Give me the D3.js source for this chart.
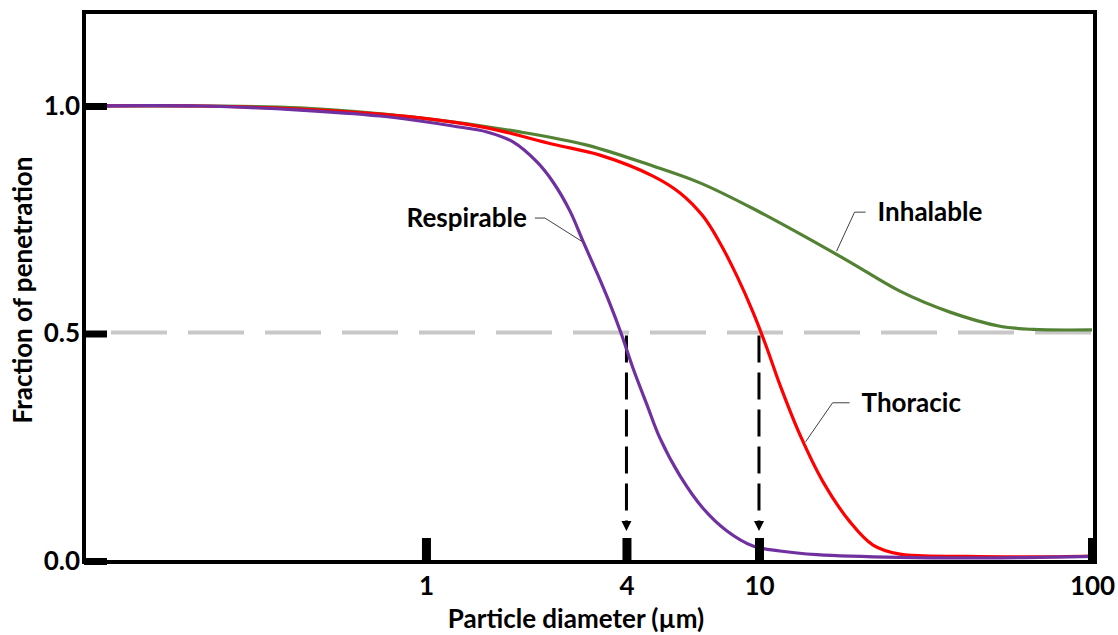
<!DOCTYPE html>
<html>
<head>
<meta charset="utf-8">
<script src="https://cdn.jsdelivr.net/npm/d3@7"></script>
<style>
    body { margin: 0; background: #fff; }
    svg { display: block; }
    text { font-family: Lato, "Open Sans", sans-serif; font-weight: bold; fill: #000; }
</style>
</head>
<body>
<div id="chart"></div>
<script>
// 图尺寸
const WIDTH = 1118;
const HEIGHT = 635;

// 坐标轴
const X_MIN = 0.094;
const X_MAX = 100;
const Y_MAX = 1.2;
const xTicks = [1, 4, 10, 100];
const yTicks = [0, 0.5, 1.0];
const xTitle = "Particle diameter (\u00b5m)";
const yTitle = "Fraction of penetration";

// 曲线数据 (粒径 µm, 穿透率)
const respirableD = [0.094, 0.21, 0.418, 0.727, 0.959, 1.205, 1.525, 1.825, 2.154, 2.407, 2.707, 2.961, 3.263, 3.569, 3.852, 4.183, 4.61, 5.042, 5.793, 6.789, 8.014, 9.594, 11.56, 14.94, 26.5, 52.8, 100];
const respirableV = [1.0, 1.0, 0.991, 0.978, 0.967, 0.956, 0.943, 0.921, 0.877, 0.833, 0.769, 0.703, 0.633, 0.565, 0.501, 0.424, 0.343, 0.27, 0.187, 0.116, 0.066, 0.033, 0.022, 0.014, 0.008, 0.007, 0.01];

const thoracicD = [0.094, 0.21, 0.418, 0.959, 1.525, 2.407, 3.331, 4.805, 5.793, 6.789, 7.636, 8.589, 9.594, 10.5, 11.56, 13.28, 15.57, 18.76, 22.0, 26.5, 42.1, 66.5, 100];
const thoracicV = [1.0, 1.0, 0.993, 0.974, 0.952, 0.916, 0.892, 0.846, 0.809, 0.758, 0.699, 0.626, 0.547, 0.473, 0.387, 0.277, 0.174, 0.086, 0.035, 0.015, 0.01, 0.009, 0.011];

const inhalableD = [0.094, 0.21, 0.418, 0.959, 1.915, 3.044, 4.805, 6.65, 9.397, 13.28, 18.76, 26.5, 37.46, 52.9, 66.5, 100];
const inhalableV = [1.0, 1.0, 0.996, 0.974, 0.943, 0.914, 0.868, 0.831, 0.778, 0.719, 0.657, 0.593, 0.547, 0.516, 0.509, 0.508];

// 名称 / 颜色
const seriesNames = ["Inhalable", "Thoracic", "Respirable"];
const seriesColors = ["#548235", "#ff0000", "#7030a0"];

// 50% 切割点
const cutLevel = 0.5;
const cutPoints = [4, 10];

// 标注锚点 (落在曲线上)
const labelAnchorD = [17.1, 13.8, 2.96];
const labelAnchorV = [0.681, 0.262, 0.701];

main();

function main() {
    const svg = d3.select("#chart").append("svg")
        .attr("width", WIDTH)
        .attr("height", HEIGHT);

    const left = 84, right = 1092, top = 15, bottom = 561;

    const x = d3.scaleLog().domain([X_MIN, X_MAX]).range([left, right]);
    const y = d3.scaleLinear().domain([0, Y_MAX]).range([bottom, top]);

    // 0.5 灰色虚线
    svg.append("line")
        .attr("x1", left + 27)
        .attr("x2", x(X_MAX))
        .attr("y1", y(cutLevel) - 1)
        .attr("y2", y(cutLevel) - 1)
        .attr("stroke", "#c8c8c8")
        .attr("stroke-width", 4)
        .attr("stroke-dasharray", "56,21");

    // 向下箭头
    cutPoints.forEach(c => {
        const cx = x(c);
        svg.append("line")
            .attr("x1", cx).attr("x2", cx)
            .attr("y1", y(cutLevel) + 2)
            .attr("y2", bottom - 40)
            .attr("stroke", "#000")
            .attr("stroke-width", 3)
            .attr("stroke-dasharray", "27,10");
        svg.append("path")
            .attr("d", `M${cx - 5},${bottom - 40}L${cx + 5},${bottom - 40}L${cx},${bottom - 30}Z`)
            .attr("fill", "#000");
    });

    // 曲线
    const line = d3.line()
        .x(d => x(d[0]))
        .y(d => y(d[1]))
        .curve(d3.curveCatmullRom.alpha(0.5));

    const series = [
        d3.zip(inhalableD, inhalableV),
        d3.zip(thoracicD, thoracicV),
        d3.zip(respirableD, respirableV)
    ];
    svg.selectAll("path.curve")
        .data(series)
        .enter()
        .append("path")
        .attr("class", "curve")
        .attr("d", line)
        .attr("fill", "none")
        .attr("stroke", (d, i) => seriesColors[i])
        .attr("stroke-width", 3.2);

    // 标注引线 + 文字
    // ex/ey: 折点相对锚点, h: 水平段长度, gap: 文字间距
    const leaders = [
        { ex: 18, ey: -39, h: 11, gap: 12 },
        { ex: 27, ey: -39, h: 17, gap: 12 },
        { ex: -38, ey: -24, h: -10, gap: -8 }
    ];
    seriesNames.forEach((name, i) => {
        const ax = x(labelAnchorD[i]), ay = y(labelAnchorV[i]);
        const l = leaders[i];
        const bx = ax + l.ex, by = ay + l.ey;
        svg.append("path")
            .attr("d", `M${ax},${ay}L${bx},${by}L${bx + l.h},${by}`)
            .attr("fill", "none")
            .attr("stroke", "#404040")
            .attr("stroke-width", 1);
        svg.append("text")
            .attr("x", bx + l.h + l.gap)
            .attr("y", by + 9)
            .attr("text-anchor", l.h < 0 ? "end" : "start")
            .style("font-size", "26px")
            .text(name);
    });

    // 边框
    svg.append("rect")
        .attr("x", left)
        .attr("y", top - 3)
        .attr("width", right - left + 3)
        .attr("height", bottom - top + 4)
        .attr("fill", "none")
        .attr("stroke", "#000")
        .attr("stroke-width", 4);

    // x 轴
    const xAxis = svg.append("g")
        .attr("transform", `translate(0,${bottom})`)
        .call(d3.axisBottom(x)
            .tickValues(xTicks)
            .tickSizeInner(-23)
            .tickSizeOuter(0)
            .tickFormat(d3.format("d")));
    xAxis.select(".domain").remove();
    xAxis.selectAll(".tick line").attr("stroke", "#000").attr("stroke-width", 9);
    xAxis.selectAll(".tick text")
        .attr("y", 16)
        .attr("dy", "0.71em")
        .style("font-size", "26px")
        .style("font-family", null);

    // y 轴
    const yAxis = svg.append("g")
        .attr("transform", `translate(${left},0)`)
        .call(d3.axisLeft(y)
            .tickValues(yTicks)
            .tickSizeInner(-23)
            .tickSizeOuter(0)
            .tickPadding(4)
            .tickFormat(d3.format(".1f")));
    yAxis.select(".domain").remove();
    yAxis.selectAll(".tick line").attr("stroke", "#000").attr("stroke-width", 7);
    yAxis.selectAll(".tick text")
        .attr("x", -4)
        .style("font-size", "26px")
        .style("font-family", null);

    // 轴标题
    svg.append("text")
        .attr("x", 576)
        .attr("y", 628)
        .attr("text-anchor", "middle")
        .style("font-size", "26px")
        .text(xTitle);

    svg.append("text")
        .attr("transform", "translate(32,290) rotate(-90)")
        .attr("text-anchor", "middle")
        .style("font-size", "26px")
        .text(yTitle);
}
</script>
</body>
</html>
